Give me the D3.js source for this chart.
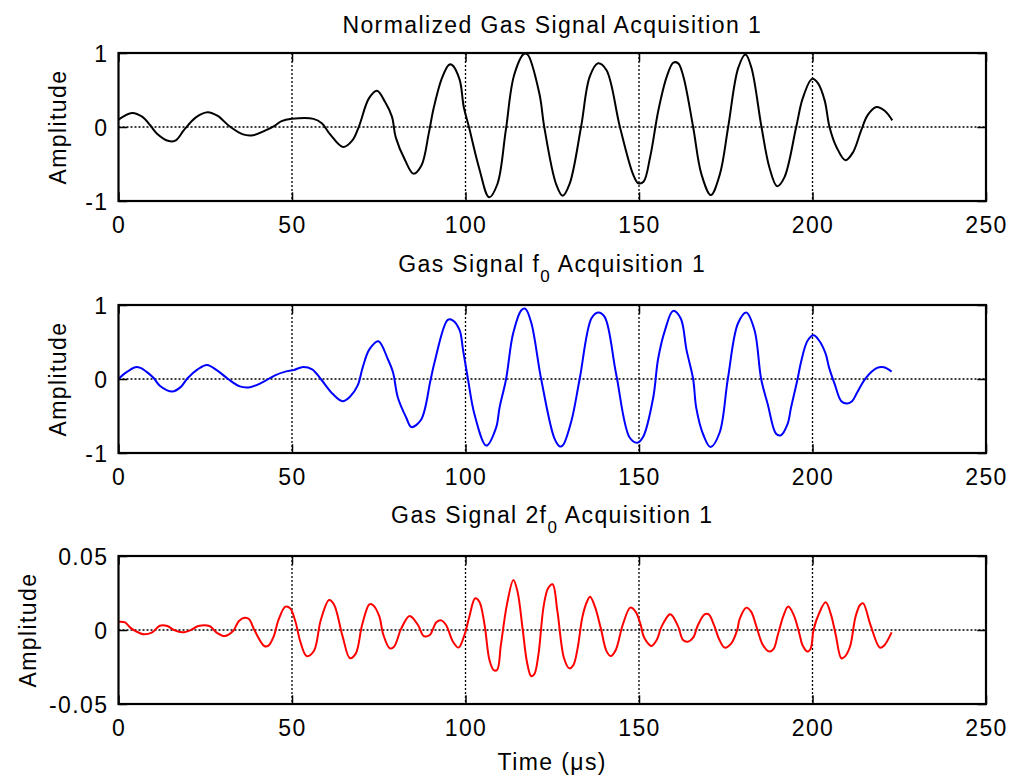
<!DOCTYPE html>
<html>
<head>
<meta charset="utf-8">
<script src="https://cdn.jsdelivr.net/npm/d3@7"></script>
<style>
  html, body { margin: 0; padding: 0; background: #fff; }
  svg text { font-family: "Liberation Sans", Arial, sans-serif; font-size: 23px; letter-spacing: 1.4px; fill: #000; }
</style>
</head>
<body>
<svg id="chart" width="1010" height="776"></svg>
<script>
// ---------- DATA (time in µs, amplitude) ----------
const xTicks = [0, 50, 100, 150, 200, 250];
const yTicksNorm = [-1, 0, 1];
const yTicks2f = [-0.05, 0, 0.05];

const normalizedSignal = [
  [0,0.10],[3.9,0.19],[6.8,0.14],[9.2,0.02],[11.1,-0.09],[14.5,-0.19],[16.5,-0.18],[18.9,-0.04],
  [22.3,0.13],[25.7,0.20],[28.6,0.15],[32,0.01],[35.9,-0.10],[38.8,-0.11],[42.2,-0.05],[45.1,0.02],
  [47,0.08],[49.9,0.11],[56.2,0.11],[58.6,0.05],[61,-0.10],[64.7,-0.27],[67.4,-0.18],[69.3,0.01],
  [72.2,0.39],[74.5,0.49],[76.8,0.34],[78.8,0.14],[79.9,-0.14],[82.6,-0.45],[85,-0.63],[87.3,-0.52],
  [89.4,-0.09],[90.8,0.25],[93.2,0.66],[95.2,0.84],[96.1,0.84],[98.3,0.64],[99.5,0.27],[101,0],
  [103.9,-0.55],[106.8,-0.95],[109.2,-0.77],[111.6,-0.05],[114,0.70],[116.9,0.99],[117.9,0.98],
  [121.3,0.45],[122.7,0],[126.1,-0.77],[128,-0.93],[130,-0.77],[133.3,0],[135.8,0.68],[138.2,0.86],
  [140.6,0.77],[144.5,0],[148.3,-0.64],[149.8,-0.76],[151.3,-0.74],[153.2,-0.41],[155.6,0.23],
  [158,0.68],[159.9,0.87],[161.3,0.86],[162.8,0.68],[165.6,0],[168,-0.64],[170.7,-0.92],[173.3,-0.64],
  [175.7,0],[178.6,0.80],[180.7,0.98],[182.4,0.80],[185.3,0],[187.6,-0.55],[189.8,-0.80],[191.9,-0.68],
  [195.3,0],[197.2,0.39],[199.9,0.65],[201.6,0.59],[203.5,0.36],[204.9,0],[206.9,-0.27],[209.5,-0.45],
  [211.7,-0.34],[214,-0.05],[215.9,0.16],[218.4,0.27],[220.8,0.22],[223,0.09]
];

const fundamentalSignal = [
  [0,0.0],[1.9,0.08],[4.9,0.16],[6.3,0.15],[8.3,0.09],[10.2,0.01],[11.9,-0.09],[15.5,-0.17],
  [17.9,-0.11],[19.9,0.01],[22.8,0.13],[25.5,0.19],[28.6,0.11],[31.6,0],[35,-0.10],[37.9,-0.11],
  [41.3,-0.05],[45.1,0.05],[48.1,0.10],[50.5,0.12],[52.9,0.16],[55.8,0.13],[58.3,0],[61.7,-0.20],
  [64.6,-0.30],[66.7,-0.24],[68.9,-0.09],[70.4,0.16],[72.3,0.40],[74.9,0.51],[77.6,0.27],[79.1,0.09],
  [80.5,-0.25],[82.9,-0.52],[84.4,-0.65],[87.2,-0.55],[89.9,-0.02],[91.1,0.23],[94.9,0.80],[96.4,0.79],
  [98.3,0.66],[99.3,0.39],[100.7,0],[102.6,-0.48],[106,-0.90],[108.8,-0.66],[109.8,-0.39],[111.7,0],
  [113.7,0.61],[116.1,0.93],[117.2,0.95],[118.9,0.77],[121.8,0],[125.6,-0.80],[127.1,-0.91],[128,-0.90],
  [130.5,-0.57],[132.9,0],[136.3,0.82],[138.2,0.90],[140.1,0.84],[143.4,0.07],[147.3,-0.79],[149.5,-0.86],
  [151.2,-0.78],[154.1,-0.25],[155.5,0.27],[157.5,0.66],[159.8,0.92],[162,0.82],[163.7,0.39],[165.6,0],
  [166.5,-0.39],[168.5,-0.75],[170.6,-0.92],[173.2,-0.73],[175.6,0],[178.5,0.75],[180.9,0.90],[183.3,0.66],
  [185.2,0],[187.1,-0.34],[189.5,-0.74],[190.9,-0.76],[192.8,-0.61],[193.8,-0.39],[195.7,0],[196.7,0.23],
  [198.6,0.52],[200.3,0.59],[201.9,0.52],[203.8,0.34],[204.8,0.15],[206.4,-0.07],[208.3,-0.30],[210,-0.33],
  [211.4,-0.30],[212.9,-0.18],[215.3,0.01],[218.6,0.15],[220.6,0.16],[222.8,0.10]
];

const harmonicSignal = [
  [0,0.0056],[1.9,0.0052],[3.4,0.0016],[4.9,-0.0007],[7.3,-0.0029],[9.7,-0.0016],[11.9,0.0029],[14.1,0.0027],
  [16,0],[18.4,-0.0016],[20.9,0],[23,0.0027],[26.2,0.0027],[28.2,-0.0016],[30.6,-0.0041],[33,-0.0007],
  [34.7,0.0061],[36.4,0.0083],[37.6,0.0074],[39.3,-0.0007],[42,-0.0108],[43.2,-0.0106],[44.7,-0.0045],
  [46.1,0.0068],[48.1,0.0158],[49.5,0.0146],[51,0.0056],[52.4,-0.0079],[54.2,-0.0176],[56.3,-0.0142],
  [58.3,0.0068],[60.7,0.0203],[62.1,0.0173],[64.6,-0.0045],[66.7,-0.0191],[68.4,-0.0158],[70.2,0.0034],
  [72.3,0.0173],[73.3,0.0169],[75.2,0.009],[76.2,-0.0023],[78.2,-0.0124],[79.4,-0.0113],[81.5,0.0011],
  [83.9,0.0095],[86.3,0.0034],[88,-0.0041],[89.7,-0.0034],[91.6,0.0052],[93,0.0065],[94.4,0.0034],
  [96.4,-0.0079],[98,-0.0119],[99.7,-0.0034],[101.1,0.009],[102.8,0.0214],[104,0.0191],[105.5,0.0034],
  [106.9,-0.0203],[108.1,-0.027],[109.1,-0.027],[110.2,-0.0101],[112,0.018],[113.8,0.0338],[115,0.0259],
  [116.5,0],[117.7,-0.0214],[118.9,-0.0311],[119.8,-0.03],[121,-0.0169],[122.5,0.0158],[123.8,0.0282],
  [125.1,0.0309],[126.5,0.0124],[128.4,-0.0191],[129.9,-0.0259],[131.1,-0.0236],[132.3,-0.0124],
  [133.7,0.009],[135,0.0191],[135.9,0.0225],[137.3,0.0158],[139,0.0011],[140.7,-0.0146],[141.9,-0.0176],
  [143.3,-0.0135],[145.3,0.0034],[147.5,0.0151],[149,0.0124],[150.5,0.0034],[151.2,-0.0034],[152.2,-0.0079],
  [153.6,-0.0108],[155.1,-0.0068],[156.5,0.0023],[158.9,0.0106],[159.4,0.0101],[161.3,0.0023],
  [162.7,-0.0068],[164.1,-0.0079],[165.6,-0.0052],[167,0.0034],[168.9,0.0106],[170.1,0.0106],[171.6,0.0034],
  [173.2,-0.0068],[174.7,-0.0119],[176.6,-0.009],[178.3,0],[179,0.0074],[180.9,0.0151],[182.3,0.0124],
  [184,0.0011],[185.7,-0.0101],[187.6,-0.0146],[188.8,-0.0128],[190,-0.0034],[191.7,0.0101],[193,0.0158],
  [194.6,0.0101],[196.2,-0.0023],[197.1,-0.0101],[198.6,-0.0146],[199.5,-0.0124],[200.3,0],[201.9,0.0113],
  [203.8,0.0187],[205.3,0.0106],[206.7,-0.0034],[208.3,-0.0191],[209.3,-0.018],[210.8,-0.0113],
  [212.4,0.009],[213.7,0.0169],[214.6,0.018],[216.7,0.0034],[219.4,-0.0119],[220.6,-0.0106],[222.8,-0.0016]
];

// ---------- LAYOUT ----------
const svg = d3.select("#chart");
const left = 118.5, right = 986;
const panelH = 148;
const panels = [
  { top: 53,  data: normalizedSignal,  color: "#000000", domain: [-1, 1], ticks: yTicksNorm, titleY: 33, title: ["Normalized Gas Signal Acquisition 1"], ylabX: 58 },
  { top: 305, data: fundamentalSignal, color: "#0000ff", domain: [-1, 1], ticks: yTicksNorm, titleY: 272, title: ["Gas Signal f", "0", " Acquisition 1"], ylabX: 58 },
  { top: 556, data: harmonicSignal,    color: "#ff0000", domain: [-0.05, 0.05], ticks: yTicks2f, titleY: 523, title: ["Gas Signal 2f", "0", " Acquisition 1"], ylabX: 28 }
];

const x = d3.scaleLinear().domain([0, 250]).range([left, right]);
const tickLen = 8.7;

panels.forEach((p) => {
  const y = d3.scaleLinear().domain(p.domain).range([p.top + panelH, p.top]);
  const g = svg.append("g");

  // grid lines (dotted)
  const grid = g.append("g").attr("stroke", "#000").attr("stroke-width", 1.3).attr("stroke-dasharray", "2,2");
  xTicks.filter(t => t > 0 && t < 250).forEach(t => {
    grid.append("line").attr("x1", x(t)).attr("x2", x(t)).attr("y1", p.top).attr("y2", p.top + panelH);
  });
  p.ticks.filter(v => v > p.domain[0] && v < p.domain[1]).forEach(v => {
    grid.append("line").attr("x1", left).attr("x2", right).attr("y1", y(v)).attr("y2", y(v));
  });

  // data line
  const line = d3.line().x(d => x(d[0])).y(d => y(d[1])).curve(d3.curveCatmullRom.alpha(0.5));
  g.append("path").datum(p.data).attr("d", line)
    .attr("fill", "none").attr("stroke", p.color).attr("stroke-width", 2).attr("stroke-linejoin", "round");

  // axes (ticks inward)
  const bottomAxis = d3.axisBottom(x).tickValues(xTicks).tickSize(-tickLen).tickFormat(d => String(d));
  const topAxis = d3.axisTop(x).tickValues(xTicks).tickSize(-tickLen).tickFormat("");
  const leftAxis = d3.axisLeft(y).tickValues(p.ticks).tickSize(-tickLen).tickFormat(d => String(d));
  const rightAxis = d3.axisRight(y).tickValues(p.ticks).tickSize(-tickLen).tickFormat("");

  const styleAxis = sel => {
    sel.select(".domain").remove();
    sel.selectAll(".tick line").attr("stroke", "#000").attr("stroke-width", 1.5);
    sel.selectAll(".tick text").attr("font-size", null).attr("font-family", null).attr("fill", "#000");
  };
  g.append("g").attr("transform", `translate(0,${p.top + panelH})`).call(bottomAxis).call(styleAxis)
    .selectAll(".tick text").attr("dy", null).attr("y", 32);
  g.append("g").attr("transform", `translate(0,${p.top})`).call(topAxis).call(styleAxis);
  g.append("g").attr("transform", `translate(${left},0)`).call(leftAxis).call(styleAxis)
    .selectAll(".tick text").attr("dy", "0.36em").attr("x", -10);
  g.append("g").attr("transform", `translate(${right},0)`).call(rightAxis).call(styleAxis);

  // box
  g.append("rect").attr("x", left).attr("y", p.top).attr("width", right - left).attr("height", panelH)
    .attr("fill", "none").attr("stroke", "#000").attr("stroke-width", 2.2);

  // title
  const t = svg.append("text").attr("x", (left + right) / 2).attr("y", p.titleY).attr("text-anchor", "middle");
  if (p.title.length === 1) {
    t.text(p.title[0]);
  } else {
    t.append("tspan").text(p.title[0]);
    t.append("tspan").text(p.title[1]).attr("dy", 10).attr("font-size", "17px");
    t.append("tspan").text(p.title[2]).attr("dy", -10);
  }

  // y label
  svg.append("text").attr("transform", `translate(${p.ylabX + 8},${p.top + panelH / 2}) rotate(-90)`)
    .attr("text-anchor", "middle").text("Amplitude");
});

svg.append("text").attr("x", (left + right) / 2).attr("y", 770).attr("text-anchor", "middle").text("Time (μs)");
</script>
</body>
</html>
